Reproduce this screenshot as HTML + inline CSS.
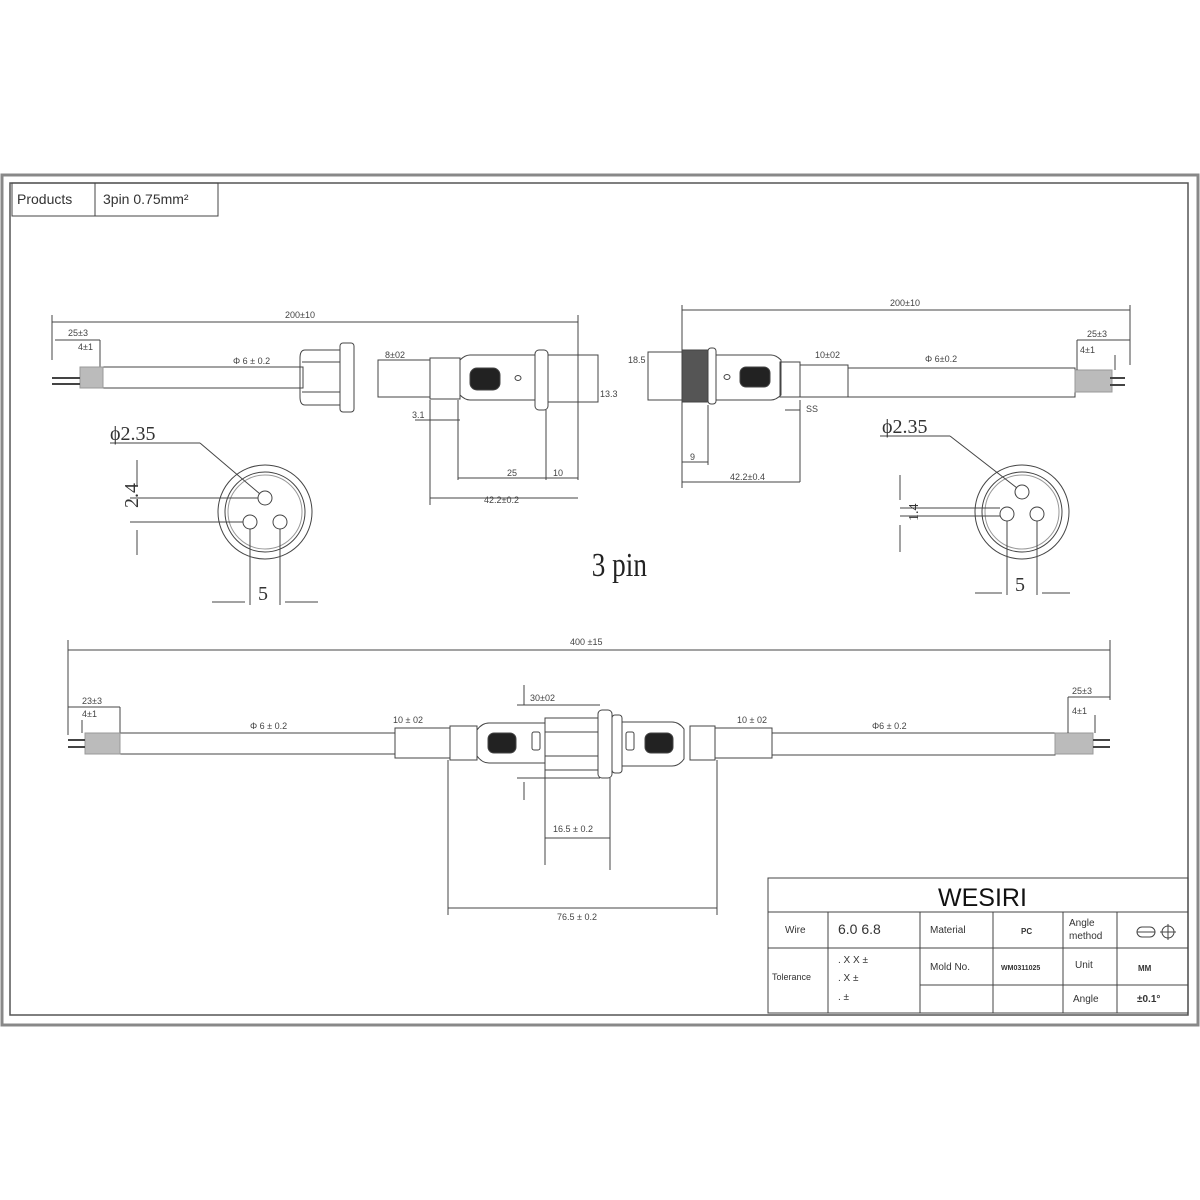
<!DOCTYPE html>
<html><head><meta charset="utf-8"><style>html,body{margin:0;padding:0;background:#fff}svg{display:block}</style></head>
<body>
<svg width="1200" height="1200" viewBox="0 0 1200 1200" xmlns="http://www.w3.org/2000/svg" font-family="Liberation Sans, sans-serif" fill="none" stroke="#444" stroke-width="1">
<rect x="2" y="175" width="1196" height="850" stroke="#888" stroke-width="3"/>
<rect x="10" y="183" width="1178" height="832" stroke="#555" stroke-width="1.5"/>
<rect x="12" y="183" width="206" height="33"/>
<line x1="95" y1="183" x2="95" y2="216"/>
<g fill="#333" stroke="none" font-size="14">
<text x="17" y="204">Products</text><text x="103" y="204">3pin  0.75mm²</text>
</g>

<!-- TOP LEFT -->
<line x1="52" y1="322" x2="578" y2="322"/>
<line x1="52" y1="315" x2="52" y2="360"/><line x1="578" y1="315" x2="578" y2="480"/>
<line x1="55" y1="340" x2="100" y2="340"/><line x1="100" y1="340" x2="100" y2="388"/>
<rect x="103" y="367" width="200" height="21"/>
<rect x="80" y="367" width="23" height="21" fill="#bbb" stroke="#999"/>
<line x1="52" y1="378" x2="80" y2="378" stroke-width="2"/><line x1="52" y1="384" x2="80" y2="384" stroke-width="2"/>
<path d="M305 350 h35 v55 h-35 q-5 0 -5 -8 v-39 q0 -8 5 -8z M302 362 h38 M302 392 h38"/>
<rect x="340" y="343" width="14" height="69" rx="3"/>
<rect x="378" y="360" width="52" height="37"/>
<rect x="430" y="358" width="30" height="41"/>
<path d="M460 360 q5 -5 10 -5 h65 v45 h-65 q-5 0 -10 -5z"/>
<rect x="470" y="368" width="30" height="22" rx="7" fill="#222"/>
<ellipse cx="518" cy="378" rx="3" ry="2.5"/>
<rect x="535" y="350" width="13" height="60" rx="4"/>
<rect x="548" y="355" width="50" height="47"/>
<line x1="430" y1="400" x2="430" y2="505"/><line x1="458" y1="400" x2="458" y2="480"/><line x1="546" y1="410" x2="546" y2="480"/>
<line x1="458" y1="478" x2="578" y2="478"/><line x1="430" y1="498" x2="578" y2="498"/>
<line x1="415" y1="420" x2="460" y2="420"/>
<g fill="#444" stroke="none" font-size="9">
<text x="285" y="318">200±10</text><text x="68" y="336">25±3</text><text x="78" y="350">4±1</text>
<text x="233" y="364">Φ 6 ± 0.2</text><text x="385" y="358">8±02</text><text x="600" y="397">13.3</text>
<text x="412" y="418">3.1</text><text x="507" y="476">25</text><text x="553" y="476">10</text><text x="484" y="503">42.2±0.2</text>
</g>
<circle cx="265" cy="512" r="47"/><circle cx="265" cy="512" r="40"/><circle cx="265" cy="512" r="37" stroke="#999"/>
<circle cx="265" cy="498" r="7"/><circle cx="250" cy="522" r="7"/><circle cx="280" cy="522" r="7"/>
<line x1="110" y1="443" x2="200" y2="443"/><line x1="200" y1="443" x2="260" y2="494"/>
<line x1="130" y1="498" x2="258" y2="498"/><line x1="130" y1="522" x2="243" y2="522"/>
<line x1="137" y1="460" x2="137" y2="485"/><line x1="137" y1="530" x2="137" y2="555"/>
<line x1="250" y1="529" x2="250" y2="605"/><line x1="280" y1="529" x2="280" y2="605"/>
<line x1="212" y1="602" x2="245" y2="602"/><line x1="285" y1="602" x2="318" y2="602"/>
<g fill="#333" stroke="none" font-family="Liberation Serif, serif" font-size="20">
<text x="110" y="440">ϕ2.35</text><text x="258" y="600">5</text>
<text x="130" y="520" transform="rotate(-90 128 510)">2.4</text>
</g>

<text x="586" y="576" fill="#222" stroke="none" font-family="Liberation Serif, serif" font-size="34" transform="scale(0.8 1)" style="transform-origin:615px 565px">3 pin</text>

<!-- TOP RIGHT -->
<line x1="682" y1="310" x2="1130" y2="310"/>
<line x1="682" y1="305" x2="682" y2="488"/><line x1="1130" y1="305" x2="1130" y2="365"/>
<rect x="648" y="352" width="34" height="48"/>
<rect x="682" y="350" width="26" height="52" fill="#555"/>
<rect x="708" y="348" width="8" height="56" rx="3"/>
<path d="M716 355 h55 q5 0 10 5 v35 q-5 5 -10 5 h-55z"/>
<rect x="740" y="367" width="30" height="20" rx="6" fill="#222"/>
<ellipse cx="727" cy="377" rx="3" ry="2.5"/>
<rect x="780" y="362" width="20" height="35"/>
<rect x="800" y="365" width="48" height="32"/>
<rect x="848" y="368" width="227" height="29"/>
<rect x="1075" y="370" width="37" height="22" fill="#bbb" stroke="#999"/>
<line x1="1110" y1="378" x2="1125" y2="378" stroke-width="2"/><line x1="1110" y1="385" x2="1125" y2="385" stroke-width="2"/>
<line x1="1077" y1="340" x2="1130" y2="340"/><line x1="1077" y1="340" x2="1077" y2="370"/><line x1="1115" y1="370" x2="1115" y2="355"/>
<line x1="708" y1="405" x2="708" y2="465"/><line x1="682" y1="462" x2="708" y2="462"/>
<line x1="800" y1="400" x2="800" y2="482"/><line x1="682" y1="482" x2="800" y2="482"/>
<line x1="785" y1="410" x2="800" y2="410"/>
<g fill="#444" stroke="none" font-size="9">
<text x="890" y="306">200±10</text><text x="1087" y="337">25±3</text><text x="1080" y="353">4±1</text>
<text x="628" y="363">18.5</text><text x="815" y="358">10±02</text><text x="925" y="362">Φ 6±0.2</text>
<text x="806" y="412">SS</text><text x="690" y="460">9</text><text x="730" y="480">42.2±0.4</text>
</g>
<circle cx="1022" cy="512" r="47"/><circle cx="1022" cy="512" r="40"/><circle cx="1022" cy="512" r="37" stroke="#999"/>
<circle cx="1022" cy="492" r="7"/><circle cx="1007" cy="514" r="7"/><circle cx="1037" cy="514" r="7"/>
<line x1="880" y1="436" x2="950" y2="436"/><line x1="950" y1="436" x2="1017" y2="488"/>
<line x1="900" y1="508" x2="1000" y2="508"/><line x1="900" y1="516" x2="1000" y2="516"/>
<line x1="900" y1="475" x2="900" y2="500"/><line x1="900" y1="525" x2="900" y2="552"/>
<line x1="1007" y1="521" x2="1007" y2="595"/><line x1="1037" y1="521" x2="1037" y2="595"/>
<line x1="975" y1="593" x2="1002" y2="593"/><line x1="1042" y1="593" x2="1070" y2="593"/>
<g fill="#333" stroke="none" font-family="Liberation Serif, serif" font-size="20">
<text x="882" y="433">ϕ2.35</text><text x="1015" y="591">5</text>
<text x="905" y="518" font-size="14" transform="rotate(-90 913 513)">1.4</text>
</g>

<!-- BOTTOM -->
<line x1="68" y1="650" x2="1110" y2="650"/>
<line x1="68" y1="640" x2="68" y2="735"/><line x1="1110" y1="640" x2="1110" y2="700"/>
<line x1="68" y1="707" x2="120" y2="707"/><line x1="120" y1="707" x2="120" y2="733"/>
<line x1="82" y1="720" x2="82" y2="733"/>
<rect x="120" y="733" width="275" height="21"/>
<rect x="85" y="733" width="35" height="21" fill="#bbb" stroke="#999"/>
<line x1="68" y1="740" x2="85" y2="740" stroke-width="2"/><line x1="68" y1="747" x2="85" y2="747" stroke-width="2"/>
<rect x="395" y="728" width="55" height="30"/>
<rect x="450" y="726" width="27" height="34"/>
<path d="M477 730 q5 -7 12 -7 h56 v40 h-56 q-7 0 -12 -7z"/>
<rect x="488" y="733" width="28" height="20" rx="6" fill="#222"/>
<rect x="532" y="732" width="8" height="18" rx="2"/>
<path d="M545 718 h53 v52 h-53z M545 732 h53 M545 756 h53"/>
<rect x="598" y="710" width="14" height="68" rx="4"/>
<rect x="612" y="715" width="10" height="58" rx="3"/>
<path d="M622 722 h50 q7 0 12 7 v30 q-5 7 -12 7 h-50z"/>
<rect x="626" y="732" width="8" height="18" rx="2"/>
<rect x="645" y="733" width="28" height="20" rx="6" fill="#222"/>
<rect x="690" y="726" width="25" height="34"/>
<rect x="715" y="728" width="57" height="30"/>
<rect x="772" y="733" width="283" height="22"/>
<rect x="1055" y="733" width="38" height="21" fill="#bbb" stroke="#999"/>
<line x1="1093" y1="740" x2="1110" y2="740" stroke-width="2"/><line x1="1093" y1="747" x2="1110" y2="747" stroke-width="2"/>
<line x1="1068" y1="697" x2="1110" y2="697"/><line x1="1068" y1="697" x2="1068" y2="733"/><line x1="1095" y1="715" x2="1095" y2="733"/>
<line x1="517" y1="705" x2="600" y2="705"/><line x1="517" y1="778" x2="600" y2="778"/>
<line x1="524" y1="685" x2="524" y2="705"/><line x1="524" y1="782" x2="524" y2="800"/>
<line x1="545" y1="770" x2="545" y2="865"/><line x1="610" y1="778" x2="610" y2="870"/>
<line x1="545" y1="838" x2="610" y2="838"/>
<line x1="448" y1="760" x2="448" y2="915"/><line x1="717" y1="760" x2="717" y2="915"/>
<line x1="448" y1="908" x2="717" y2="908"/>
<g fill="#444" stroke="none" font-size="9">
<text x="570" y="645">400 ±15</text><text x="82" y="704">23±3</text><text x="82" y="717">4±1</text>
<text x="250" y="729">Φ 6 ± 0.2</text><text x="393" y="723">10 ± 02</text><text x="530" y="701">30±02</text>
<text x="737" y="723">10 ± 02</text><text x="872" y="729">Φ6 ± 0.2</text><text x="1072" y="694">25±3</text><text x="1072" y="714">4±1</text>
<text x="553" y="832">16.5 ± 0.2</text><text x="557" y="920">76.5 ± 0.2</text>
</g>

<rect x="768" y="878" width="420" height="135"/>
<line x1="768" y1="912" x2="1188" y2="912"/>
<line x1="768" y1="948" x2="1188" y2="948"/>
<line x1="920" y1="985" x2="1188" y2="985"/>
<line x1="828" y1="912" x2="828" y2="1013"/>
<line x1="920" y1="912" x2="920" y2="1013"/>
<line x1="993" y1="912" x2="993" y2="1013"/>
<line x1="1063" y1="912" x2="1063" y2="1013"/>
<line x1="1117" y1="912" x2="1117" y2="1013"/>
<g fill="#333" stroke="none" font-size="10">
<text x="938" y="906" font-size="25" fill="#111">WESIRI</text>
<text x="785" y="933">Wire</text><text x="838" y="934" font-size="14">6.0    6.8</text>
<text x="930" y="933">Material</text><text x="1021" y="934" font-size="8" font-weight="bold">PC</text>
<text x="1069" y="926">Angle</text><text x="1069" y="939">method</text>
<text x="772" y="980" font-size="9">Tolerance</text>
<text x="838" y="963">. X X ±</text><text x="838" y="981">. X ±</text><text x="838" y="1000">. ±</text>
<text x="930" y="970">Mold No.</text><text x="1001" y="970" font-size="7" font-weight="bold">WM0311025</text>
<text x="1075" y="968">Unit</text><text x="1138" y="971" font-size="8" font-weight="bold">MM</text>
<text x="1073" y="1002">Angle</text><text x="1137" y="1002" font-weight="bold">±0.1°</text>
</g>
<rect x="1137" y="927" width="18" height="10" rx="5"/><line x1="1137" y1="932" x2="1155" y2="932"/>
<circle cx="1168" cy="932" r="6"/><line x1="1160" y1="932" x2="1176" y2="932"/><line x1="1168" y1="924" x2="1168" y2="940"/>
</svg>
</body></html>
